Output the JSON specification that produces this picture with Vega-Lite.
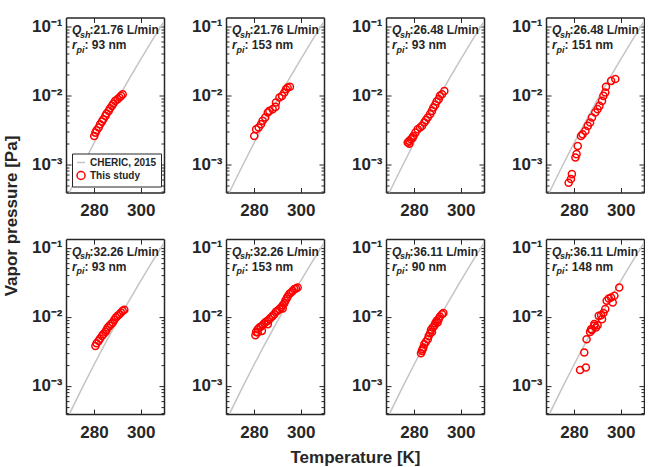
{
"$schema": "https://vega.github.io/schema/vega-lite/v6.json",
"padding": {"left": 2, "top": 16.5, "right": 0, "bottom": 0},
"background": "white",
"columns": 4,
"spacing": {"row": 46.6, "column": 62},
"bounds": "flush",
"resolve": {"scale": {"color": "independent", "shape": "independent"}, "legend": {"color": "independent", "shape": "independent"}},
"config": {
  "font": "Liberation Sans",
  "view": {"stroke": null},
  "axis": {"domainColor": "#262626", "domainWidth": 1.5, "tickColor": "#262626", "tickWidth": 1, "labelFont": "Liberation Sans", "labelFontSize": 17, "labelFontWeight": "bold", "labelColor": "#262626", "grid": false, "titleFont": "Liberation Sans", "titleFontSize": 17, "titleFontWeight": "bold", "titleColor": "#262626", "labelOverlap": false},
  "text": {"font": "Liberation Sans", "color": "#262626", "fontWeight": "bold", "align": "left", "baseline": "alphabetic"},
  "legend": {"orient": "bottom-left", "offset": 6, "padding": 4, "rowPadding": 1, "symbolSize": 64, "symbolStrokeWidth": 1.5, "labelFont": "Liberation Sans", "labelFontSize": 10, "labelFontWeight": "bold", "labelColor": "#262626", "fillColor": "white", "strokeColor": "#262626", "labelOffset": 4}
},
"datasets": {
  "cheric": [{"T":265,"P":0.000189},{"T":270,"P":0.000428},{"T":275,"P":0.000944},{"T":280,"P":0.00202},{"T":285,"P":0.00422},{"T":290,"P":0.00857},{"T":295,"P":0.0170},{"T":300,"P":0.0330},{"T":305,"P":0.0627},{"T":310,"P":0.1165},{"T":315,"P":0.212}],
  "info": [
    {"panel":1,"q":":21.76 L/min","r":": 93 nm"},
    {"panel":2,"q":":21.76 L/min","r":": 153 nm"},
    {"panel":3,"q":":26.48 L/min","r":": 93 nm"},
    {"panel":4,"q":":26.48 L/min","r":": 151 nm"},
    {"panel":5,"q":":32.26 L/min","r":": 93 nm"},
    {"panel":6,"q":":32.26 L/min","r":": 153 nm"},
    {"panel":7,"q":":36.11 L/min","r":": 90 nm"},
    {"panel":8,"q":":36.11 L/min","r":": 148 nm"}
  ],
  "study": [
    {"panel":1,"T":280.1,"P":0.00257},{"panel":1,"T":280.6,"P":0.00287},{"panel":1,"T":281.1,"P":0.00311},{"panel":1,"T":282.0,"P":0.00340},{"panel":1,"T":282.6,"P":0.00380},{"panel":1,"T":283.4,"P":0.00414},{"panel":1,"T":284.0,"P":0.00449},{"panel":1,"T":284.9,"P":0.00501},{"panel":1,"T":285.4,"P":0.00541},{"panel":1,"T":286.3,"P":0.00592},{"panel":1,"T":286.9,"P":0.00647},{"panel":1,"T":287.7,"P":0.00700},{"panel":1,"T":288.3,"P":0.00755},{"panel":1,"T":289.1,"P":0.00826},{"panel":1,"T":290.1,"P":0.00875},{"panel":1,"T":290.9,"P":0.00923},{"panel":1,"T":291.6,"P":0.00977},{"panel":1,"T":292.3,"P":0.0103},
    {"panel":2,"T":280.1,"P":0.00257},{"panel":2,"T":280.9,"P":0.00321},{"panel":2,"T":282.0,"P":0.00340},{"panel":2,"T":283.0,"P":0.00380},{"panel":2,"T":283.7,"P":0.00425},{"panel":2,"T":284.8,"P":0.00474},{"panel":2,"T":285.9,"P":0.00560},{"panel":2,"T":286.6,"P":0.00592},{"panel":2,"T":288.0,"P":0.00627},{"panel":2,"T":289.2,"P":0.00676},{"panel":2,"T":289.4,"P":0.00782},{"panel":2,"T":290.9,"P":0.00923},{"panel":2,"T":292.0,"P":0.00977},{"panel":2,"T":293.0,"P":0.0109},{"panel":2,"T":293.7,"P":0.0122},{"panel":2,"T":294.4,"P":0.0129},{"panel":2,"T":295.4,"P":0.0132},
    {"panel":3,"T":277.3,"P":0.00206},{"panel":3,"T":278.0,"P":0.00218},{"panel":3,"T":278.7,"P":0.00230},{"panel":3,"T":278.0,"P":0.00199},{"panel":3,"T":279.4,"P":0.00243},{"panel":3,"T":279.7,"P":0.00257},{"panel":3,"T":280.6,"P":0.00287},{"panel":3,"T":281.6,"P":0.00321},{"panel":3,"T":282.6,"P":0.00340},{"panel":3,"T":283.4,"P":0.00359},{"panel":3,"T":284.4,"P":0.00401},{"panel":3,"T":285.1,"P":0.00435},{"panel":3,"T":285.9,"P":0.00474},{"panel":3,"T":286.9,"P":0.00531},{"panel":3,"T":287.7,"P":0.00592},{"panel":3,"T":288.3,"P":0.00662},{"panel":3,"T":289.1,"P":0.00723},{"panel":3,"T":289.7,"P":0.00807},{"panel":3,"T":290.6,"P":0.00875},{"panel":3,"T":291.1,"P":0.00977},{"panel":3,"T":292.0,"P":0.0103},{"panel":3,"T":293.0,"P":0.0115},
    {"panel":4,"T":277.7,"P":0.00054},{"panel":4,"T":278.7,"P":0.00061},{"panel":4,"T":279.1,"P":0.00072},{"panel":4,"T":280.6,"P":0.00125},{"panel":4,"T":281.1,"P":0.00140},{"panel":4,"T":281.6,"P":0.00184},{"panel":4,"T":283.0,"P":0.00257},{"panel":4,"T":283.7,"P":0.00272},{"panel":4,"T":284.9,"P":0.00304},{"panel":4,"T":285.9,"P":0.00359},{"panel":4,"T":286.9,"P":0.00401},{"panel":4,"T":287.7,"P":0.00474},{"panel":4,"T":289.1,"P":0.00560},{"panel":4,"T":290.1,"P":0.00627},{"panel":4,"T":290.9,"P":0.00700},{"panel":4,"T":292.0,"P":0.00826},{"panel":4,"T":292.6,"P":0.00977},{"panel":4,"T":293.4,"P":0.0109},{"panel":4,"T":293.7,"P":0.0132},{"panel":4,"T":295.9,"P":0.0161},{"panel":4,"T":297.7,"P":0.0171},
    {"panel":5,"T":280.6,"P":0.00378},{"panel":5,"T":281.1,"P":0.00414},{"panel":5,"T":282.0,"P":0.00448},{"panel":5,"T":282.6,"P":0.00483},{"panel":5,"T":283.4,"P":0.00528},{"panel":5,"T":284.0,"P":0.00560},{"panel":5,"T":284.9,"P":0.00604},{"panel":5,"T":285.4,"P":0.00646},{"panel":5,"T":285.9,"P":0.00698},{"panel":5,"T":286.6,"P":0.00738},{"panel":5,"T":287.3,"P":0.00782},{"panel":5,"T":288.0,"P":0.00824},{"panel":5,"T":288.7,"P":0.00902},{"panel":5,"T":289.4,"P":0.00975},{"panel":5,"T":290.1,"P":0.0103},{"panel":5,"T":290.9,"P":0.0109},{"panel":5,"T":291.6,"P":0.0115},{"panel":5,"T":292.3,"P":0.0122},{"panel":5,"T":293.0,"P":0.0126},
    {"panel":6,"T":280.6,"P":0.00541},{"panel":6,"T":280.9,"P":0.00604},{"panel":6,"T":281.6,"P":0.00661},{"panel":6,"T":282.3,"P":0.00698},{"panel":6,"T":283.0,"P":0.00721},{"panel":6,"T":283.7,"P":0.00755},{"panel":6,"T":284.4,"P":0.00807},{"panel":6,"T":285.1,"P":0.00843},{"panel":6,"T":285.9,"P":0.00873},{"panel":6,"T":286.6,"P":0.00923},{"panel":6,"T":287.3,"P":0.00975},{"panel":6,"T":288.0,"P":0.0103},{"panel":6,"T":288.7,"P":0.0109},{"panel":6,"T":289.4,"P":0.0118},{"panel":6,"T":290.1,"P":0.0122},{"panel":6,"T":290.9,"P":0.0129},{"panel":6,"T":291.6,"P":0.0136},{"panel":6,"T":292.3,"P":0.0147},{"panel":6,"T":293.0,"P":0.0157},{"panel":6,"T":293.4,"P":0.0170},{"panel":6,"T":294.0,"P":0.0184},{"panel":6,"T":294.4,"P":0.0196},{"panel":6,"T":295.1,"P":0.0213},{"panel":6,"T":295.9,"P":0.0225},{"panel":6,"T":296.6,"P":0.0237},{"panel":6,"T":297.3,"P":0.0251},{"panel":6,"T":298.0,"P":0.0257},{"panel":6,"T":298.7,"P":0.0265},{"panel":6,"T":281.6,"P":0.00590},{"panel":6,"T":283.4,"P":0.00625},{"panel":6,"T":285.9,"P":0.00782},{"panel":6,"T":292.3,"P":0.0132},
    {"panel":7,"T":283.0,"P":0.00296},{"panel":7,"T":283.4,"P":0.00321},{"panel":7,"T":283.7,"P":0.00339},{"panel":7,"T":284.0,"P":0.00358},{"panel":7,"T":284.4,"P":0.00401},{"panel":7,"T":285.1,"P":0.00433},{"panel":7,"T":285.9,"P":0.00473},{"panel":7,"T":286.3,"P":0.00528},{"panel":7,"T":286.9,"P":0.00578},{"panel":7,"T":287.7,"P":0.00604},{"panel":7,"T":287.3,"P":0.00646},{"panel":7,"T":288.0,"P":0.00698},{"panel":7,"T":288.7,"P":0.00738},{"panel":7,"T":289.1,"P":0.00807},{"panel":7,"T":290.1,"P":0.00824},{"panel":7,"T":289.7,"P":0.00873},{"panel":7,"T":290.6,"P":0.00923},{"panel":7,"T":291.1,"P":0.0101},{"panel":7,"T":292.0,"P":0.0109},{"panel":7,"T":292.6,"P":0.0113},
    {"panel":8,"T":282.6,"P":0.00170},{"panel":8,"T":285.1,"P":0.00184},{"panel":8,"T":284.4,"P":0.00303},{"panel":8,"T":285.4,"P":0.00473},{"panel":8,"T":286.9,"P":0.00604},{"panel":8,"T":287.7,"P":0.00646},{"panel":8,"T":288.7,"P":0.00738},{"panel":8,"T":289.4,"P":0.00698},{"panel":8,"T":290.1,"P":0.00755},{"panel":8,"T":290.6,"P":0.0103},{"panel":8,"T":291.6,"P":0.0105},{"panel":8,"T":292.0,"P":0.00923},{"panel":8,"T":292.6,"P":0.0113},{"panel":8,"T":293.4,"P":0.0129},{"panel":8,"T":294.0,"P":0.0170},{"panel":8,"T":294.9,"P":0.0184},{"panel":8,"T":295.9,"P":0.0190},{"panel":8,"T":296.6,"P":0.0161},{"panel":8,"T":297.3,"P":0.0201},{"panel":8,"T":299.4,"P":0.0265},{"panel":8,"T":288.7,"P":0.00782},{"panel":8,"T":287.3,"P":0.00661}
  ]
},
"concat": [
{"width":98,"height":175,"resolve":{"axis":{"x":"independent","y":"independent"}},"layer":[
 {"data":{"name":"cheric"},"mark":{"type":"line","strokeWidth":1.5,"clip":true},
  "encoding":{"x":{"field":"T","type":"quantitative","scale":{"domain":[268,310],"nice":false,"zero":false},"axis":{"orient":"bottom","title":null,"values":[280,300],"tickSize":-5,"labelPadding":15}},
   "y":{"field":"P","type":"quantitative","scale":{"type":"log","domain":[0.00039,0.133],"nice":false},"axis":{"orient":"left","title":"Vapor pressure [Pa]","titleX":-55,"titleY":198,"titleAngle":270,"titleAlign":"center","titleBaseline":"middle","values":[0.0004,0.0005,0.0006,0.0007,0.0008,0.0009,0.001,0.002,0.003,0.004,0.005,0.006,0.007,0.008,0.009,0.01,0.02,0.03,0.04,0.05,0.06,0.07,0.08,0.09,0.1],"labelExpr":"datum.value==0.1?'10⁻¹':datum.value==0.01?'10⁻²':datum.value==0.001?'10⁻³':''","tickSize":{"condition":{"test":"datum.value==0.1||datum.value==0.01||datum.value==0.001","value":-5},"value":-3},"labelPadding":9}},
   "color":{"datum":"CHERIC, 2015","type":"nominal","scale":{"domain":["CHERIC, 2015","This study"],"range":["#c4c4c4","#ff0000"]},"legend":{"title":null}}}},
 {"data":{"name":"study"},"transform":[{"filter":"datum.panel == 1"}],"mark":{"type":"point","filled":false,"strokeWidth":1.5,"size":50,"opacity":1,"clip":true},
  "encoding":{"x":{"field":"T","type":"quantitative","scale":{"domain":[268,310],"nice":false,"zero":false},"axis":{"orient":"top","title":null,"values":[280,300],"tickSize":-5,"labels":false}},
   "y":{"field":"P","type":"quantitative","scale":{"type":"log","domain":[0.00039,0.133],"nice":false},"axis":{"orient":"right","title":null,"values":[0.0004,0.0005,0.0006,0.0007,0.0008,0.0009,0.001,0.002,0.003,0.004,0.005,0.006,0.007,0.008,0.009,0.01,0.02,0.03,0.04,0.05,0.06,0.07,0.08,0.09,0.1],"labels":false,"tickSize":{"condition":{"test":"datum.value==0.1||datum.value==0.01||datum.value==0.001","value":-5},"value":-3}}},
   "color":{"datum":"This study","type":"nominal","scale":{"domain":["CHERIC, 2015","This study"],"range":["#c4c4c4","#ff0000"]},"legend":{"title":null}},
   "shape":{"datum":"This study","type":"nominal","scale":{"domain":["CHERIC, 2015","This study"],"range":["stroke","circle"]},"legend":{"title":null}}}},
 {"data":{"name":"info"},"transform":[{"filter":"datum.panel == 1"}],"mark":{"type":"text","text":"Q","fontStyle":"italic","fontSize":12,"dx":6,"dy":16.5},"encoding":{"x":{"datum":268,"type":"quantitative","axis":null},"y":{"datum":0.133,"type":"quantitative","axis":null}}},
 {"data":{"name":"info"},"transform":[{"filter":"datum.panel == 1"}],"mark":{"type":"text","text":"sh","fontStyle":"italic","fontSize":9,"dx":14,"dy":20},"encoding":{"x":{"datum":268,"type":"quantitative","axis":null},"y":{"datum":0.133,"type":"quantitative","axis":null}}},
 {"data":{"name":"info"},"transform":[{"filter":"datum.panel == 1"}],"mark":{"type":"text","fontSize":12,"dx":23.5,"dy":16.5},"encoding":{"text":{"field":"q"},"x":{"datum":268,"type":"quantitative","axis":null},"y":{"datum":0.133,"type":"quantitative","axis":null}}},
 {"data":{"name":"info"},"transform":[{"filter":"datum.panel == 1"}],"mark":{"type":"text","text":"r","fontStyle":"italic","fontSize":12,"dx":6,"dy":31.5},"encoding":{"x":{"datum":268,"type":"quantitative","axis":null},"y":{"datum":0.133,"type":"quantitative","axis":null}}},
 {"data":{"name":"info"},"transform":[{"filter":"datum.panel == 1"}],"mark":{"type":"text","text":"pi","fontStyle":"italic","fontSize":9,"dx":10.5,"dy":35},"encoding":{"x":{"datum":268,"type":"quantitative","axis":null},"y":{"datum":0.133,"type":"quantitative","axis":null}}},
 {"data":{"name":"info"},"transform":[{"filter":"datum.panel == 1"}],"mark":{"type":"text","fontSize":12,"dx":18.5,"dy":31.5},"encoding":{"text":{"field":"r"},"x":{"datum":268,"type":"quantitative","axis":null},"y":{"datum":0.133,"type":"quantitative","axis":null}}}
]},
{"width":98,"height":175,"resolve":{"axis":{"x":"independent","y":"independent"}},"layer":[
 {"data":{"name":"cheric"},"mark":{"type":"line","color":"#c4c4c4","strokeWidth":1.5,"clip":true},
  "encoding":{"x":{"field":"T","type":"quantitative","scale":{"domain":[268,310],"nice":false,"zero":false},"axis":{"orient":"bottom","title":null,"values":[280,300],"tickSize":-5,"labelPadding":15}},
   "y":{"field":"P","type":"quantitative","scale":{"type":"log","domain":[0.00039,0.133],"nice":false},"axis":{"orient":"left","title":null,"values":[0.0004,0.0005,0.0006,0.0007,0.0008,0.0009,0.001,0.002,0.003,0.004,0.005,0.006,0.007,0.008,0.009,0.01,0.02,0.03,0.04,0.05,0.06,0.07,0.08,0.09,0.1],"labelExpr":"datum.value==0.1?'10⁻¹':datum.value==0.01?'10⁻²':datum.value==0.001?'10⁻³':''","tickSize":{"condition":{"test":"datum.value==0.1||datum.value==0.01||datum.value==0.001","value":-5},"value":-3},"labelPadding":9}}}},
 {"data":{"name":"study"},"transform":[{"filter":"datum.panel == 2"}],"mark":{"type":"point","shape":"circle","filled":false,"color":"#ff0000","strokeWidth":1.5,"size":50,"opacity":1,"clip":true},
  "encoding":{"x":{"field":"T","type":"quantitative","scale":{"domain":[268,310],"nice":false,"zero":false},"axis":{"orient":"top","title":null,"values":[280,300],"tickSize":-5,"labels":false}},
   "y":{"field":"P","type":"quantitative","scale":{"type":"log","domain":[0.00039,0.133],"nice":false},"axis":{"orient":"right","title":null,"values":[0.0004,0.0005,0.0006,0.0007,0.0008,0.0009,0.001,0.002,0.003,0.004,0.005,0.006,0.007,0.008,0.009,0.01,0.02,0.03,0.04,0.05,0.06,0.07,0.08,0.09,0.1],"labels":false,"tickSize":{"condition":{"test":"datum.value==0.1||datum.value==0.01||datum.value==0.001","value":-5},"value":-3}}}}},
 {"data":{"name":"info"},"transform":[{"filter":"datum.panel == 2"}],"mark":{"type":"text","text":"Q","fontStyle":"italic","fontSize":12,"dx":6,"dy":16.5},"encoding":{"x":{"datum":268,"type":"quantitative","axis":null},"y":{"datum":0.133,"type":"quantitative","axis":null}}},
 {"data":{"name":"info"},"transform":[{"filter":"datum.panel == 2"}],"mark":{"type":"text","text":"sh","fontStyle":"italic","fontSize":9,"dx":14,"dy":20},"encoding":{"x":{"datum":268,"type":"quantitative","axis":null},"y":{"datum":0.133,"type":"quantitative","axis":null}}},
 {"data":{"name":"info"},"transform":[{"filter":"datum.panel == 2"}],"mark":{"type":"text","fontSize":12,"dx":23.5,"dy":16.5},"encoding":{"text":{"field":"q"},"x":{"datum":268,"type":"quantitative","axis":null},"y":{"datum":0.133,"type":"quantitative","axis":null}}},
 {"data":{"name":"info"},"transform":[{"filter":"datum.panel == 2"}],"mark":{"type":"text","text":"r","fontStyle":"italic","fontSize":12,"dx":6,"dy":31.5},"encoding":{"x":{"datum":268,"type":"quantitative","axis":null},"y":{"datum":0.133,"type":"quantitative","axis":null}}},
 {"data":{"name":"info"},"transform":[{"filter":"datum.panel == 2"}],"mark":{"type":"text","text":"pi","fontStyle":"italic","fontSize":9,"dx":10.5,"dy":35},"encoding":{"x":{"datum":268,"type":"quantitative","axis":null},"y":{"datum":0.133,"type":"quantitative","axis":null}}},
 {"data":{"name":"info"},"transform":[{"filter":"datum.panel == 2"}],"mark":{"type":"text","fontSize":12,"dx":18.5,"dy":31.5},"encoding":{"text":{"field":"r"},"x":{"datum":268,"type":"quantitative","axis":null},"y":{"datum":0.133,"type":"quantitative","axis":null}}}
]},
{"width":98,"height":175,"resolve":{"axis":{"x":"independent","y":"independent"}},"layer":[
 {"data":{"name":"cheric"},"mark":{"type":"line","color":"#c4c4c4","strokeWidth":1.5,"clip":true},
  "encoding":{"x":{"field":"T","type":"quantitative","scale":{"domain":[268,310],"nice":false,"zero":false},"axis":{"orient":"bottom","title":null,"values":[280,300],"tickSize":-5,"labelPadding":15}},
   "y":{"field":"P","type":"quantitative","scale":{"type":"log","domain":[0.00039,0.133],"nice":false},"axis":{"orient":"left","title":null,"values":[0.0004,0.0005,0.0006,0.0007,0.0008,0.0009,0.001,0.002,0.003,0.004,0.005,0.006,0.007,0.008,0.009,0.01,0.02,0.03,0.04,0.05,0.06,0.07,0.08,0.09,0.1],"labelExpr":"datum.value==0.1?'10⁻¹':datum.value==0.01?'10⁻²':datum.value==0.001?'10⁻³':''","tickSize":{"condition":{"test":"datum.value==0.1||datum.value==0.01||datum.value==0.001","value":-5},"value":-3},"labelPadding":9}}}},
 {"data":{"name":"study"},"transform":[{"filter":"datum.panel == 3"}],"mark":{"type":"point","shape":"circle","filled":false,"color":"#ff0000","strokeWidth":1.5,"size":50,"opacity":1,"clip":true},
  "encoding":{"x":{"field":"T","type":"quantitative","scale":{"domain":[268,310],"nice":false,"zero":false},"axis":{"orient":"top","title":null,"values":[280,300],"tickSize":-5,"labels":false}},
   "y":{"field":"P","type":"quantitative","scale":{"type":"log","domain":[0.00039,0.133],"nice":false},"axis":{"orient":"right","title":null,"values":[0.0004,0.0005,0.0006,0.0007,0.0008,0.0009,0.001,0.002,0.003,0.004,0.005,0.006,0.007,0.008,0.009,0.01,0.02,0.03,0.04,0.05,0.06,0.07,0.08,0.09,0.1],"labels":false,"tickSize":{"condition":{"test":"datum.value==0.1||datum.value==0.01||datum.value==0.001","value":-5},"value":-3}}}}},
 {"data":{"name":"info"},"transform":[{"filter":"datum.panel == 3"}],"mark":{"type":"text","text":"Q","fontStyle":"italic","fontSize":12,"dx":6,"dy":16.5},"encoding":{"x":{"datum":268,"type":"quantitative","axis":null},"y":{"datum":0.133,"type":"quantitative","axis":null}}},
 {"data":{"name":"info"},"transform":[{"filter":"datum.panel == 3"}],"mark":{"type":"text","text":"sh","fontStyle":"italic","fontSize":9,"dx":14,"dy":20},"encoding":{"x":{"datum":268,"type":"quantitative","axis":null},"y":{"datum":0.133,"type":"quantitative","axis":null}}},
 {"data":{"name":"info"},"transform":[{"filter":"datum.panel == 3"}],"mark":{"type":"text","fontSize":12,"dx":23.5,"dy":16.5},"encoding":{"text":{"field":"q"},"x":{"datum":268,"type":"quantitative","axis":null},"y":{"datum":0.133,"type":"quantitative","axis":null}}},
 {"data":{"name":"info"},"transform":[{"filter":"datum.panel == 3"}],"mark":{"type":"text","text":"r","fontStyle":"italic","fontSize":12,"dx":6,"dy":31.5},"encoding":{"x":{"datum":268,"type":"quantitative","axis":null},"y":{"datum":0.133,"type":"quantitative","axis":null}}},
 {"data":{"name":"info"},"transform":[{"filter":"datum.panel == 3"}],"mark":{"type":"text","text":"pi","fontStyle":"italic","fontSize":9,"dx":10.5,"dy":35},"encoding":{"x":{"datum":268,"type":"quantitative","axis":null},"y":{"datum":0.133,"type":"quantitative","axis":null}}},
 {"data":{"name":"info"},"transform":[{"filter":"datum.panel == 3"}],"mark":{"type":"text","fontSize":12,"dx":18.5,"dy":31.5},"encoding":{"text":{"field":"r"},"x":{"datum":268,"type":"quantitative","axis":null},"y":{"datum":0.133,"type":"quantitative","axis":null}}}
]},
{"width":98,"height":175,"resolve":{"axis":{"x":"independent","y":"independent"}},"layer":[
 {"data":{"name":"cheric"},"mark":{"type":"line","color":"#c4c4c4","strokeWidth":1.5,"clip":true},
  "encoding":{"x":{"field":"T","type":"quantitative","scale":{"domain":[268,310],"nice":false,"zero":false},"axis":{"orient":"bottom","title":null,"values":[280,300],"tickSize":-5,"labelPadding":15}},
   "y":{"field":"P","type":"quantitative","scale":{"type":"log","domain":[0.00039,0.133],"nice":false},"axis":{"orient":"left","title":null,"values":[0.0004,0.0005,0.0006,0.0007,0.0008,0.0009,0.001,0.002,0.003,0.004,0.005,0.006,0.007,0.008,0.009,0.01,0.02,0.03,0.04,0.05,0.06,0.07,0.08,0.09,0.1],"labelExpr":"datum.value==0.1?'10⁻¹':datum.value==0.01?'10⁻²':datum.value==0.001?'10⁻³':''","tickSize":{"condition":{"test":"datum.value==0.1||datum.value==0.01||datum.value==0.001","value":-5},"value":-3},"labelPadding":9}}}},
 {"data":{"name":"study"},"transform":[{"filter":"datum.panel == 4"}],"mark":{"type":"point","shape":"circle","filled":false,"color":"#ff0000","strokeWidth":1.5,"size":50,"opacity":1,"clip":true},
  "encoding":{"x":{"field":"T","type":"quantitative","scale":{"domain":[268,310],"nice":false,"zero":false},"axis":{"orient":"top","title":null,"values":[280,300],"tickSize":-5,"labels":false}},
   "y":{"field":"P","type":"quantitative","scale":{"type":"log","domain":[0.00039,0.133],"nice":false},"axis":{"orient":"right","title":null,"values":[0.0004,0.0005,0.0006,0.0007,0.0008,0.0009,0.001,0.002,0.003,0.004,0.005,0.006,0.007,0.008,0.009,0.01,0.02,0.03,0.04,0.05,0.06,0.07,0.08,0.09,0.1],"labels":false,"tickSize":{"condition":{"test":"datum.value==0.1||datum.value==0.01||datum.value==0.001","value":-5},"value":-3}}}}},
 {"data":{"name":"info"},"transform":[{"filter":"datum.panel == 4"}],"mark":{"type":"text","text":"Q","fontStyle":"italic","fontSize":12,"dx":6,"dy":16.5},"encoding":{"x":{"datum":268,"type":"quantitative","axis":null},"y":{"datum":0.133,"type":"quantitative","axis":null}}},
 {"data":{"name":"info"},"transform":[{"filter":"datum.panel == 4"}],"mark":{"type":"text","text":"sh","fontStyle":"italic","fontSize":9,"dx":14,"dy":20},"encoding":{"x":{"datum":268,"type":"quantitative","axis":null},"y":{"datum":0.133,"type":"quantitative","axis":null}}},
 {"data":{"name":"info"},"transform":[{"filter":"datum.panel == 4"}],"mark":{"type":"text","fontSize":12,"dx":23.5,"dy":16.5},"encoding":{"text":{"field":"q"},"x":{"datum":268,"type":"quantitative","axis":null},"y":{"datum":0.133,"type":"quantitative","axis":null}}},
 {"data":{"name":"info"},"transform":[{"filter":"datum.panel == 4"}],"mark":{"type":"text","text":"r","fontStyle":"italic","fontSize":12,"dx":6,"dy":31.5},"encoding":{"x":{"datum":268,"type":"quantitative","axis":null},"y":{"datum":0.133,"type":"quantitative","axis":null}}},
 {"data":{"name":"info"},"transform":[{"filter":"datum.panel == 4"}],"mark":{"type":"text","text":"pi","fontStyle":"italic","fontSize":9,"dx":10.5,"dy":35},"encoding":{"x":{"datum":268,"type":"quantitative","axis":null},"y":{"datum":0.133,"type":"quantitative","axis":null}}},
 {"data":{"name":"info"},"transform":[{"filter":"datum.panel == 4"}],"mark":{"type":"text","fontSize":12,"dx":18.5,"dy":31.5},"encoding":{"text":{"field":"r"},"x":{"datum":268,"type":"quantitative","axis":null},"y":{"datum":0.133,"type":"quantitative","axis":null}}}
]},
{"width":98,"height":175,"resolve":{"axis":{"x":"independent","y":"independent"}},"layer":[
 {"data":{"name":"cheric"},"mark":{"type":"line","color":"#c4c4c4","strokeWidth":1.5,"clip":true},
  "encoding":{"x":{"field":"T","type":"quantitative","scale":{"domain":[268,310],"nice":false,"zero":false},"axis":{"orient":"bottom","title":null,"values":[280,300],"tickSize":-5,"labelPadding":15}},
   "y":{"field":"P","type":"quantitative","scale":{"type":"log","domain":[0.00039,0.133],"nice":false},"axis":{"orient":"left","title":null,"values":[0.0004,0.0005,0.0006,0.0007,0.0008,0.0009,0.001,0.002,0.003,0.004,0.005,0.006,0.007,0.008,0.009,0.01,0.02,0.03,0.04,0.05,0.06,0.07,0.08,0.09,0.1],"labelExpr":"datum.value==0.1?'10⁻¹':datum.value==0.01?'10⁻²':datum.value==0.001?'10⁻³':''","tickSize":{"condition":{"test":"datum.value==0.1||datum.value==0.01||datum.value==0.001","value":-5},"value":-3},"labelPadding":9}}}},
 {"data":{"name":"study"},"transform":[{"filter":"datum.panel == 5"}],"mark":{"type":"point","shape":"circle","filled":false,"color":"#ff0000","strokeWidth":1.5,"size":50,"opacity":1,"clip":true},
  "encoding":{"x":{"field":"T","type":"quantitative","scale":{"domain":[268,310],"nice":false,"zero":false},"axis":{"orient":"top","title":null,"values":[280,300],"tickSize":-5,"labels":false}},
   "y":{"field":"P","type":"quantitative","scale":{"type":"log","domain":[0.00039,0.133],"nice":false},"axis":{"orient":"right","title":null,"values":[0.0004,0.0005,0.0006,0.0007,0.0008,0.0009,0.001,0.002,0.003,0.004,0.005,0.006,0.007,0.008,0.009,0.01,0.02,0.03,0.04,0.05,0.06,0.07,0.08,0.09,0.1],"labels":false,"tickSize":{"condition":{"test":"datum.value==0.1||datum.value==0.01||datum.value==0.001","value":-5},"value":-3}}}}},
 {"data":{"name":"info"},"transform":[{"filter":"datum.panel == 5"}],"mark":{"type":"text","text":"Q","fontStyle":"italic","fontSize":12,"dx":6,"dy":16.5},"encoding":{"x":{"datum":268,"type":"quantitative","axis":null},"y":{"datum":0.133,"type":"quantitative","axis":null}}},
 {"data":{"name":"info"},"transform":[{"filter":"datum.panel == 5"}],"mark":{"type":"text","text":"sh","fontStyle":"italic","fontSize":9,"dx":14,"dy":20},"encoding":{"x":{"datum":268,"type":"quantitative","axis":null},"y":{"datum":0.133,"type":"quantitative","axis":null}}},
 {"data":{"name":"info"},"transform":[{"filter":"datum.panel == 5"}],"mark":{"type":"text","fontSize":12,"dx":23.5,"dy":16.5},"encoding":{"text":{"field":"q"},"x":{"datum":268,"type":"quantitative","axis":null},"y":{"datum":0.133,"type":"quantitative","axis":null}}},
 {"data":{"name":"info"},"transform":[{"filter":"datum.panel == 5"}],"mark":{"type":"text","text":"r","fontStyle":"italic","fontSize":12,"dx":6,"dy":31.5},"encoding":{"x":{"datum":268,"type":"quantitative","axis":null},"y":{"datum":0.133,"type":"quantitative","axis":null}}},
 {"data":{"name":"info"},"transform":[{"filter":"datum.panel == 5"}],"mark":{"type":"text","text":"pi","fontStyle":"italic","fontSize":9,"dx":10.5,"dy":35},"encoding":{"x":{"datum":268,"type":"quantitative","axis":null},"y":{"datum":0.133,"type":"quantitative","axis":null}}},
 {"data":{"name":"info"},"transform":[{"filter":"datum.panel == 5"}],"mark":{"type":"text","fontSize":12,"dx":18.5,"dy":31.5},"encoding":{"text":{"field":"r"},"x":{"datum":268,"type":"quantitative","axis":null},"y":{"datum":0.133,"type":"quantitative","axis":null}}}
]},
{"width":98,"height":175,"resolve":{"axis":{"x":"independent","y":"independent"}},"layer":[
 {"data":{"name":"cheric"},"mark":{"type":"line","color":"#c4c4c4","strokeWidth":1.5,"clip":true},
  "encoding":{"x":{"field":"T","type":"quantitative","scale":{"domain":[268,310],"nice":false,"zero":false},"axis":{"orient":"bottom","title":"Temperature [K]","titleX":129,"titleY":43,"titleAlign":"center","titleBaseline":"middle","values":[280,300],"tickSize":-5,"labelPadding":15}},
   "y":{"field":"P","type":"quantitative","scale":{"type":"log","domain":[0.00039,0.133],"nice":false},"axis":{"orient":"left","title":null,"values":[0.0004,0.0005,0.0006,0.0007,0.0008,0.0009,0.001,0.002,0.003,0.004,0.005,0.006,0.007,0.008,0.009,0.01,0.02,0.03,0.04,0.05,0.06,0.07,0.08,0.09,0.1],"labelExpr":"datum.value==0.1?'10⁻¹':datum.value==0.01?'10⁻²':datum.value==0.001?'10⁻³':''","tickSize":{"condition":{"test":"datum.value==0.1||datum.value==0.01||datum.value==0.001","value":-5},"value":-3},"labelPadding":9}}}},
 {"data":{"name":"study"},"transform":[{"filter":"datum.panel == 6"}],"mark":{"type":"point","shape":"circle","filled":false,"color":"#ff0000","strokeWidth":1.5,"size":50,"opacity":1,"clip":true},
  "encoding":{"x":{"field":"T","type":"quantitative","scale":{"domain":[268,310],"nice":false,"zero":false},"axis":{"orient":"top","title":null,"values":[280,300],"tickSize":-5,"labels":false}},
   "y":{"field":"P","type":"quantitative","scale":{"type":"log","domain":[0.00039,0.133],"nice":false},"axis":{"orient":"right","title":null,"values":[0.0004,0.0005,0.0006,0.0007,0.0008,0.0009,0.001,0.002,0.003,0.004,0.005,0.006,0.007,0.008,0.009,0.01,0.02,0.03,0.04,0.05,0.06,0.07,0.08,0.09,0.1],"labels":false,"tickSize":{"condition":{"test":"datum.value==0.1||datum.value==0.01||datum.value==0.001","value":-5},"value":-3}}}}},
 {"data":{"name":"info"},"transform":[{"filter":"datum.panel == 6"}],"mark":{"type":"text","text":"Q","fontStyle":"italic","fontSize":12,"dx":6,"dy":16.5},"encoding":{"x":{"datum":268,"type":"quantitative","axis":null},"y":{"datum":0.133,"type":"quantitative","axis":null}}},
 {"data":{"name":"info"},"transform":[{"filter":"datum.panel == 6"}],"mark":{"type":"text","text":"sh","fontStyle":"italic","fontSize":9,"dx":14,"dy":20},"encoding":{"x":{"datum":268,"type":"quantitative","axis":null},"y":{"datum":0.133,"type":"quantitative","axis":null}}},
 {"data":{"name":"info"},"transform":[{"filter":"datum.panel == 6"}],"mark":{"type":"text","fontSize":12,"dx":23.5,"dy":16.5},"encoding":{"text":{"field":"q"},"x":{"datum":268,"type":"quantitative","axis":null},"y":{"datum":0.133,"type":"quantitative","axis":null}}},
 {"data":{"name":"info"},"transform":[{"filter":"datum.panel == 6"}],"mark":{"type":"text","text":"r","fontStyle":"italic","fontSize":12,"dx":6,"dy":31.5},"encoding":{"x":{"datum":268,"type":"quantitative","axis":null},"y":{"datum":0.133,"type":"quantitative","axis":null}}},
 {"data":{"name":"info"},"transform":[{"filter":"datum.panel == 6"}],"mark":{"type":"text","text":"pi","fontStyle":"italic","fontSize":9,"dx":10.5,"dy":35},"encoding":{"x":{"datum":268,"type":"quantitative","axis":null},"y":{"datum":0.133,"type":"quantitative","axis":null}}},
 {"data":{"name":"info"},"transform":[{"filter":"datum.panel == 6"}],"mark":{"type":"text","fontSize":12,"dx":18.5,"dy":31.5},"encoding":{"text":{"field":"r"},"x":{"datum":268,"type":"quantitative","axis":null},"y":{"datum":0.133,"type":"quantitative","axis":null}}}
]},
{"width":98,"height":175,"resolve":{"axis":{"x":"independent","y":"independent"}},"layer":[
 {"data":{"name":"cheric"},"mark":{"type":"line","color":"#c4c4c4","strokeWidth":1.5,"clip":true},
  "encoding":{"x":{"field":"T","type":"quantitative","scale":{"domain":[268,310],"nice":false,"zero":false},"axis":{"orient":"bottom","title":null,"values":[280,300],"tickSize":-5,"labelPadding":15}},
   "y":{"field":"P","type":"quantitative","scale":{"type":"log","domain":[0.00039,0.133],"nice":false},"axis":{"orient":"left","title":null,"values":[0.0004,0.0005,0.0006,0.0007,0.0008,0.0009,0.001,0.002,0.003,0.004,0.005,0.006,0.007,0.008,0.009,0.01,0.02,0.03,0.04,0.05,0.06,0.07,0.08,0.09,0.1],"labelExpr":"datum.value==0.1?'10⁻¹':datum.value==0.01?'10⁻²':datum.value==0.001?'10⁻³':''","tickSize":{"condition":{"test":"datum.value==0.1||datum.value==0.01||datum.value==0.001","value":-5},"value":-3},"labelPadding":9}}}},
 {"data":{"name":"study"},"transform":[{"filter":"datum.panel == 7"}],"mark":{"type":"point","shape":"circle","filled":false,"color":"#ff0000","strokeWidth":1.5,"size":50,"opacity":1,"clip":true},
  "encoding":{"x":{"field":"T","type":"quantitative","scale":{"domain":[268,310],"nice":false,"zero":false},"axis":{"orient":"top","title":null,"values":[280,300],"tickSize":-5,"labels":false}},
   "y":{"field":"P","type":"quantitative","scale":{"type":"log","domain":[0.00039,0.133],"nice":false},"axis":{"orient":"right","title":null,"values":[0.0004,0.0005,0.0006,0.0007,0.0008,0.0009,0.001,0.002,0.003,0.004,0.005,0.006,0.007,0.008,0.009,0.01,0.02,0.03,0.04,0.05,0.06,0.07,0.08,0.09,0.1],"labels":false,"tickSize":{"condition":{"test":"datum.value==0.1||datum.value==0.01||datum.value==0.001","value":-5},"value":-3}}}}},
 {"data":{"name":"info"},"transform":[{"filter":"datum.panel == 7"}],"mark":{"type":"text","text":"Q","fontStyle":"italic","fontSize":12,"dx":6,"dy":16.5},"encoding":{"x":{"datum":268,"type":"quantitative","axis":null},"y":{"datum":0.133,"type":"quantitative","axis":null}}},
 {"data":{"name":"info"},"transform":[{"filter":"datum.panel == 7"}],"mark":{"type":"text","text":"sh","fontStyle":"italic","fontSize":9,"dx":14,"dy":20},"encoding":{"x":{"datum":268,"type":"quantitative","axis":null},"y":{"datum":0.133,"type":"quantitative","axis":null}}},
 {"data":{"name":"info"},"transform":[{"filter":"datum.panel == 7"}],"mark":{"type":"text","fontSize":12,"dx":23.5,"dy":16.5},"encoding":{"text":{"field":"q"},"x":{"datum":268,"type":"quantitative","axis":null},"y":{"datum":0.133,"type":"quantitative","axis":null}}},
 {"data":{"name":"info"},"transform":[{"filter":"datum.panel == 7"}],"mark":{"type":"text","text":"r","fontStyle":"italic","fontSize":12,"dx":6,"dy":31.5},"encoding":{"x":{"datum":268,"type":"quantitative","axis":null},"y":{"datum":0.133,"type":"quantitative","axis":null}}},
 {"data":{"name":"info"},"transform":[{"filter":"datum.panel == 7"}],"mark":{"type":"text","text":"pi","fontStyle":"italic","fontSize":9,"dx":10.5,"dy":35},"encoding":{"x":{"datum":268,"type":"quantitative","axis":null},"y":{"datum":0.133,"type":"quantitative","axis":null}}},
 {"data":{"name":"info"},"transform":[{"filter":"datum.panel == 7"}],"mark":{"type":"text","fontSize":12,"dx":18.5,"dy":31.5},"encoding":{"text":{"field":"r"},"x":{"datum":268,"type":"quantitative","axis":null},"y":{"datum":0.133,"type":"quantitative","axis":null}}}
]},
{"width":98,"height":175,"resolve":{"axis":{"x":"independent","y":"independent"}},"layer":[
 {"data":{"name":"cheric"},"mark":{"type":"line","color":"#c4c4c4","strokeWidth":1.5,"clip":true},
  "encoding":{"x":{"field":"T","type":"quantitative","scale":{"domain":[268,310],"nice":false,"zero":false},"axis":{"orient":"bottom","title":null,"values":[280,300],"tickSize":-5,"labelPadding":15}},
   "y":{"field":"P","type":"quantitative","scale":{"type":"log","domain":[0.00039,0.133],"nice":false},"axis":{"orient":"left","title":null,"values":[0.0004,0.0005,0.0006,0.0007,0.0008,0.0009,0.001,0.002,0.003,0.004,0.005,0.006,0.007,0.008,0.009,0.01,0.02,0.03,0.04,0.05,0.06,0.07,0.08,0.09,0.1],"labelExpr":"datum.value==0.1?'10⁻¹':datum.value==0.01?'10⁻²':datum.value==0.001?'10⁻³':''","tickSize":{"condition":{"test":"datum.value==0.1||datum.value==0.01||datum.value==0.001","value":-5},"value":-3},"labelPadding":9}}}},
 {"data":{"name":"study"},"transform":[{"filter":"datum.panel == 8"}],"mark":{"type":"point","shape":"circle","filled":false,"color":"#ff0000","strokeWidth":1.5,"size":50,"opacity":1,"clip":true},
  "encoding":{"x":{"field":"T","type":"quantitative","scale":{"domain":[268,310],"nice":false,"zero":false},"axis":{"orient":"top","title":null,"values":[280,300],"tickSize":-5,"labels":false}},
   "y":{"field":"P","type":"quantitative","scale":{"type":"log","domain":[0.00039,0.133],"nice":false},"axis":{"orient":"right","title":null,"values":[0.0004,0.0005,0.0006,0.0007,0.0008,0.0009,0.001,0.002,0.003,0.004,0.005,0.006,0.007,0.008,0.009,0.01,0.02,0.03,0.04,0.05,0.06,0.07,0.08,0.09,0.1],"labels":false,"tickSize":{"condition":{"test":"datum.value==0.1||datum.value==0.01||datum.value==0.001","value":-5},"value":-3}}}}},
 {"data":{"name":"info"},"transform":[{"filter":"datum.panel == 8"}],"mark":{"type":"text","text":"Q","fontStyle":"italic","fontSize":12,"dx":6,"dy":16.5},"encoding":{"x":{"datum":268,"type":"quantitative","axis":null},"y":{"datum":0.133,"type":"quantitative","axis":null}}},
 {"data":{"name":"info"},"transform":[{"filter":"datum.panel == 8"}],"mark":{"type":"text","text":"sh","fontStyle":"italic","fontSize":9,"dx":14,"dy":20},"encoding":{"x":{"datum":268,"type":"quantitative","axis":null},"y":{"datum":0.133,"type":"quantitative","axis":null}}},
 {"data":{"name":"info"},"transform":[{"filter":"datum.panel == 8"}],"mark":{"type":"text","fontSize":12,"dx":23.5,"dy":16.5},"encoding":{"text":{"field":"q"},"x":{"datum":268,"type":"quantitative","axis":null},"y":{"datum":0.133,"type":"quantitative","axis":null}}},
 {"data":{"name":"info"},"transform":[{"filter":"datum.panel == 8"}],"mark":{"type":"text","text":"r","fontStyle":"italic","fontSize":12,"dx":6,"dy":31.5},"encoding":{"x":{"datum":268,"type":"quantitative","axis":null},"y":{"datum":0.133,"type":"quantitative","axis":null}}},
 {"data":{"name":"info"},"transform":[{"filter":"datum.panel == 8"}],"mark":{"type":"text","text":"pi","fontStyle":"italic","fontSize":9,"dx":10.5,"dy":35},"encoding":{"x":{"datum":268,"type":"quantitative","axis":null},"y":{"datum":0.133,"type":"quantitative","axis":null}}},
 {"data":{"name":"info"},"transform":[{"filter":"datum.panel == 8"}],"mark":{"type":"text","fontSize":12,"dx":18.5,"dy":31.5},"encoding":{"text":{"field":"r"},"x":{"datum":268,"type":"quantitative","axis":null},"y":{"datum":0.133,"type":"quantitative","axis":null}}}
]}
]
}
